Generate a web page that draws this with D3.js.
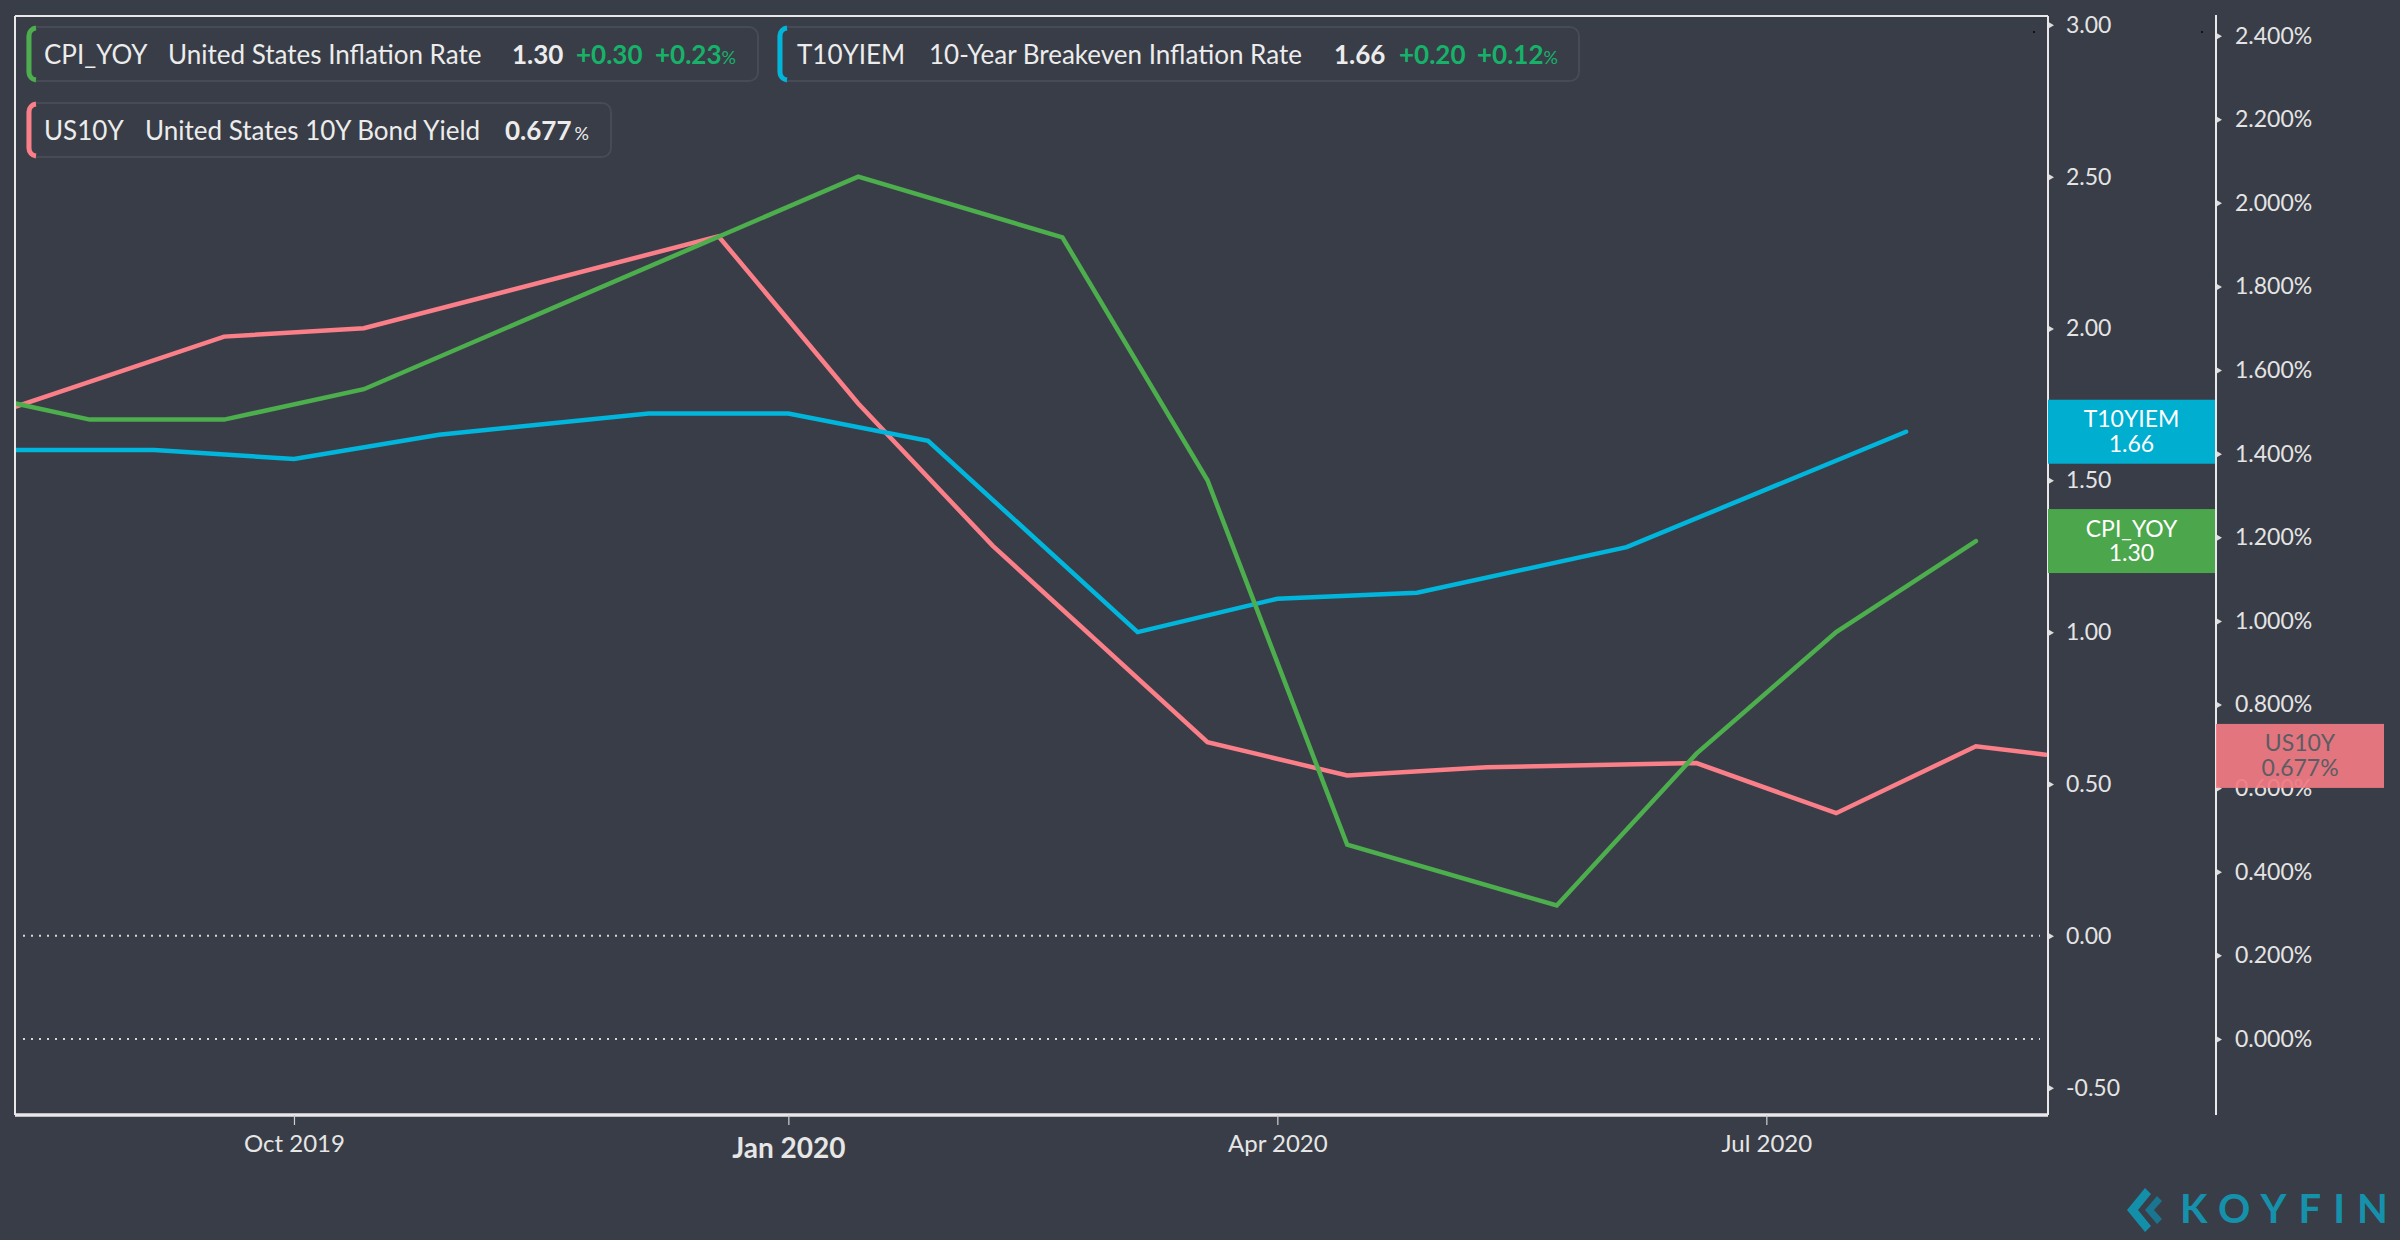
<!DOCTYPE html>
<html>
<head>
<meta charset="utf-8">
<script src="https://cdn.jsdelivr.net/npm/d3@7"></script>
<style>
  html, body { margin: 0; padding: 0; background: #393d47; }
  svg { display: block; font-family: Lato, "Open Sans", sans-serif; }
</style>
</head>
<body>
<div id="chart"></div>
<script>
// series data (dates are where the points sit on the time axis)
const cpiDates = ['2019-07-29', '2019-08-24', '2019-09-18', '2019-10-14', '2020-01-14', '2020-02-21',
  '2020-03-19', '2020-04-14', '2020-05-23', '2020-06-18', '2020-07-14', '2020-08-09'];
const cpiValues = [1.8, 1.7, 1.7, 1.8, 2.5, 2.3, 1.5, 0.3, 0.1, 0.6, 1.0, 1.3];

const t10Dates = ['2019-08-10', '2019-09-05', '2019-10-01', '2019-10-28', '2019-12-06', '2020-01-01',
  '2020-01-27', '2020-03-06', '2020-04-01', '2020-04-27', '2020-06-05', '2020-07-27'];
const t10Values = [1.60, 1.60, 1.57, 1.65, 1.72, 1.72, 1.63, 1.00, 1.11, 1.13, 1.28, 1.66];

const us10Dates = ['2019-07-29', '2019-09-18', '2019-10-14', '2019-12-19', '2020-01-14', '2020-02-08',
  '2020-03-19', '2020-04-14', '2020-05-10', '2020-06-18', '2020-07-14', '2020-08-09', '2020-08-22'];
const us10Values = [1.46, 1.68, 1.70, 1.92, 1.52, 1.18, 0.71, 0.63, 0.65, 0.66, 0.54, 0.70, 0.68];

const leftTicks = [-0.5, 0, 0.5, 1.0, 1.5, 2.0, 2.5, 3.0];
const rightTicks = [0, 0.2, 0.4, 0.6, 0.8, 1.0, 1.2, 1.4, 1.6, 1.8, 2.0, 2.2, 2.4];
const xTickDates = ['2019-10-01', '2020-01-01', '2020-04-01', '2020-07-01'];
const xTickLabels = ['Oct 2019', 'Jan 2020', 'Apr 2020', 'Jul 2020'];

const legendRows = [
  {sym: 'CPI_YOY', name: 'United States Inflation Rate', last: '1.30', chg: '+0.30', pct: '+0.23', color: '#4cae4c'},
  {sym: 'T10YIEM', name: '10-Year Breakeven Inflation Rate', last: '1.66', chg: '+0.20', pct: '+0.12', color: '#00b4da'},
  {sym: 'US10Y', name: 'United States 10Y Bond Yield', last: '0.677', chg: null, pct: null, color: '#fa7f88'}
];

const W = 2400, H = 1240;
const plot = {left: 15, right: 2048, top: 16, bottom: 1115};
const axis2X = 2216;
const parse = d3.utcParse('%Y-%m-%d');

const x = d3.scaleUtc()
  .domain([new Date(Date.UTC(2019, 7, 10, 2)), new Date(Date.UTC(2020, 7, 22, 10))])
  .range([plot.left, plot.right]);
const y1 = d3.scaleLinear().domain([-0.59, 3.029]).range([plot.bottom, plot.top]);
const y2 = d3.scaleLinear().domain([-0.182, 2.447]).range([plot.bottom, plot.top]);

const svg = d3.select('#chart').append('svg')
  .attr('width', W)
  .attr('height', H);

svg.append('rect').attr('width', W).attr('height', H).attr('fill', '#393d47');

svg.append('clipPath').attr('id', 'clip')
  .append('rect')
  .attr('x', plot.left).attr('y', plot.top)
  .attr('width', plot.right - plot.left).attr('height', plot.bottom - plot.top);

// zero lines (dotted) for both value axes
[y1(0), y2(0)].forEach((yy) => {
  svg.append('line')
    .attr('x1', plot.left + 8).attr('x2', plot.right - 8)
    .attr('y1', yy).attr('y2', yy)
    .attr('stroke', '#d8d8d8')
    .attr('stroke-width', 2)
    .attr('stroke-dasharray', '2,6');
});

// the three series
const series = [
  {dates: us10Dates, values: us10Values, scale: y2, color: '#fa7f88'},
  {dates: t10Dates, values: t10Values, scale: y1, color: '#00b6dc'},
  {dates: cpiDates, values: cpiValues, scale: y1, color: '#4cae4c'}
];

series.forEach((s) => {
  const pts = s.dates.map((d, i) => ({date: parse(d), v: s.values[i]}));
  const line = d3.line()
    .x((d) => x(d.date))
    .y((d) => s.scale(d.v));
  svg.append('path')
    .datum(pts)
    .attr('clip-path', 'url(#clip)')
    .attr('fill', 'none')
    .attr('stroke', s.color)
    .attr('stroke-width', 4.5)
    .attr('stroke-linecap', 'round')
    .attr('d', line);
});

// frame
const frameColor = '#e8e8e8';
svg.append('line').attr('x1', plot.left).attr('x2', plot.right).attr('y1', plot.top).attr('y2', plot.top)
  .attr('stroke', frameColor).attr('stroke-width', 2);
svg.append('line').attr('x1', plot.left).attr('x2', plot.left).attr('y1', plot.top).attr('y2', plot.bottom)
  .attr('stroke', frameColor).attr('stroke-width', 2);

// x axis
const xAxis = d3.axisBottom(x)
  .tickValues(xTickDates.map(parse))
  .tickSize(10)
  .tickFormat((d, i) => xTickLabels[i]);

const gx = svg.append('g')
  .attr('transform', `translate(0, ${plot.bottom})`)
  .call(xAxis);
gx.select('.domain').attr('stroke', frameColor).attr('stroke-width', 3.5)
  .attr('d', `M${plot.left},0H${plot.right}`);
gx.selectAll('.tick line').attr('stroke', '#d0d0d0').attr('stroke-width', 1.2);
gx.selectAll('.tick text')
  .attr('fill', '#e6e6e6')
  .attr('font-family', 'Lato')
  .attr('font-size', 24)
  .attr('y', 37)
  .attr('dy', 0)
  .filter((d, i) => i === 1)
  .attr('font-size', 28)
  .attr('font-weight', 'bold')
  .attr('y', 43);

// right value axes
const tri = 'M0,-3.5L6,0L0,3.5Z';

function valueAxis(xPos, scale, ticks, fmt, pad, yTop) {
  const g = svg.append('g')
    .attr('transform', `translate(${xPos}, 0)`)
    .call(d3.axisRight(scale).tickValues(ticks).tickSize(0).tickPadding(pad).tickFormat(fmt));
  g.select('.domain').remove();
  g.append('line').attr('x1', 0).attr('x2', 0).attr('y1', yTop).attr('y2', plot.bottom)
    .attr('stroke', frameColor).attr('stroke-width', 2);
  g.selectAll('.tick').append('path').attr('d', tri).attr('fill', '#dcdcdc');
  g.selectAll('.tick text')
    .attr('fill', '#e4e4e4')
    .attr('font-family', 'Lato')
    .attr('font-size', 23);
  return g;
}

valueAxis(plot.right, y1, leftTicks, (d) => d.toFixed(2), 18, plot.top);
valueAxis(axis2X, y2, rightTicks, (d) => d.toFixed(3) + '%', 19, 15);

// tiny marks near the top of the axes
[plot.right - 15, axis2X - 15].forEach((xx) => {
  svg.append('rect').attr('x', xx).attr('y', 31).attr('width', 2).attr('height', 2).attr('fill', '#111');
});

// last value tags
function tag(x0, w, yc, fill, textColor, l1, l2, opacity) {
  const g = svg.append('g');
  g.append('rect').attr('x', x0).attr('y', yc - 32).attr('width', w).attr('height', 64)
    .attr('fill', fill).attr('fill-opacity', opacity);
  g.append('text').attr('x', x0 + w / 2).attr('y', yc - 12.5).attr('dy', '0.35em')
    .attr('text-anchor', 'middle').attr('fill', textColor).attr('font-size', 23).text(l1);
  g.append('text').attr('x', x0 + w / 2).attr('y', yc + 12).attr('dy', '0.35em')
    .attr('text-anchor', 'middle').attr('fill', textColor).attr('font-size', 23).text(l2);
}
tag(plot.right, axis2X - plot.right - 1, y1(+legendRows[1].last), '#00aed0', '#ffffff', 'T10YIEM', legendRows[1].last, 1);
tag(plot.right, axis2X - plot.right - 1, y1(+legendRows[0].last), '#4ca64b', '#ffffff', 'CPI_YOY', legendRows[0].last, 1);
tag(axis2X, 168, y2(+legendRows[2].last), '#f07a83', '#5b5d64', 'US10Y', legendRows[2].last + '%', 0.93);

// legend boxes
const legendLayout = [
  {x: 27, y: 27, w: 731, parts: [44, 168, 512, 576, 655]},
  {x: 778, y: 27, w: 801, parts: [797, 929, 1334, 1399, 1477]},
  {x: 27, y: 103, w: 584, parts: [44, 145, 505]}
];

legendRows.forEach((row, i) => {
  const L = legendLayout[i];
  const h = 54, r = 9;
  const g = svg.append('g');
  g.append('rect').attr('x', L.x).attr('y', L.y).attr('width', L.w).attr('height', h)
    .attr('rx', r).attr('fill', '#393d47').attr('stroke', '#474b56').attr('stroke-width', 2);
  g.append('path')
    .attr('d', `M${L.x + r},${L.y + 1}A${r - 1},${r - 1} 0 0 0 ${L.x + 2},${L.y + r}V${L.y + h - r}A${r - 1},${r - 1} 0 0 0 ${L.x + r},${L.y + h - 1}`)
    .attr('fill', 'none').attr('stroke', row.color).attr('stroke-width', 5);
  const base = L.y + 37;
  const t = (xx, txt, fill, weight, size) => g.append('text').attr('x', xx).attr('y', base)
    .attr('fill', fill).attr('font-weight', weight).attr('font-size', size || 26).text(txt);
  t(L.parts[0], row.sym, '#ececec', 'normal');
  t(L.parts[1], row.name, '#ececec', 'normal');
  const lastT = t(L.parts[2], row.last, '#ececec', 'bold');
  if (row.chg) {
    t(L.parts[3], row.chg, '#17b26a', 'bold');
    const pt = t(L.parts[4], row.pct, '#17b26a', 'bold');
    pt.append('tspan').attr('font-size', 18).attr('font-weight', 'normal').text('%');
  } else {
    lastT.append('tspan').attr('dx', 3).attr('font-size', 18).attr('font-weight', 'normal').text('%');
  }
});

// watermark
const logo = svg.append('g').attr('transform', 'translate(2127, 1188)');
logo.append('path')
  .attr('d', 'M18,0 L0,22 L18,44 L24,38 L11,22 L24,6 Z')
  .attr('fill', '#148fa9');
logo.append('path')
  .attr('d', 'M30,8 L18,22 L30,36 L35,31 L27,22 L35,13 Z')
  .attr('fill', '#1a7590');
svg.append('text')
  .attr('x', 2180).attr('y', 1223)
  .attr('font-size', 40).attr('font-weight', 'bold')
  .attr('letter-spacing', 12)
  .attr('fill', '#1591ab')
  .text('KOYFIN');
</script>
</body>
</html>
